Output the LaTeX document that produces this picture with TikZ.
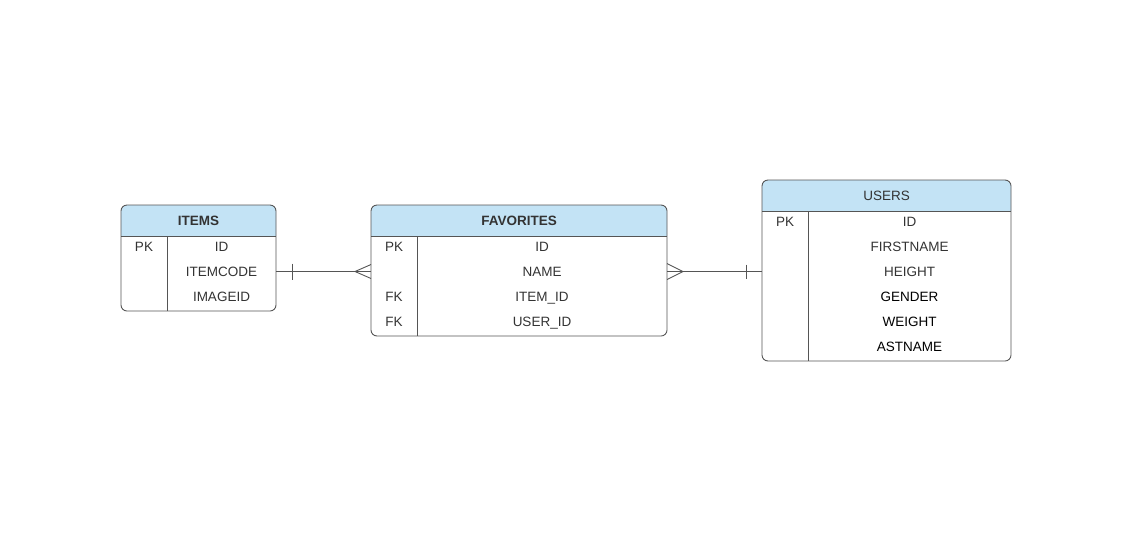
\documentclass[tikz,border=0pt]{standalone}
\usepackage{fontspec}
\setmainfont{Liberation Sans}
\usetikzlibrary{calc}
\definecolor{headfill}{HTML}{C3E3F5}
\definecolor{edge}{HTML}{555555}
\definecolor{ink}{HTML}{333333}
\tikzset{
  tbl/.style={inner sep=0pt, outer sep=0pt},
  border/.style={draw=edge, line width=0.9pt, rounded corners=6pt},
  rule/.style={draw=edge, line width=0.9pt},
  field/.style={inner sep=0pt, text depth=0pt, text=ink, font=\fontsize{13.5}{15}\selectfont},
  darkfield/.style={field, text=black},
  title/.style={inner sep=0pt, text depth=0pt, text=ink, font=\fontsize{13.5}{15}\selectfont},
  conn/.style={draw=edge, line width=0.9pt},
}
\begin{document}
\begin{tikzpicture}[x=1pt,y=-1pt]
\useasboundingbox (0,0) rectangle (1147,550);

% ---------- table frames ----------
\node[tbl, minimum width=155pt, minimum height=106pt] (items) at (198.5,258) {};
\node[tbl, minimum width=296pt, minimum height=131pt] (fav) at (519,270.5) {};
\node[tbl, minimum width=249pt, minimum height=181pt] (users) at (886.5,270.5) {};

% header bands (rounded on top only)
\foreach \t in {items,fav,users}{
  \fill[headfill] ([yshift=-31pt]\t.north west) [rounded corners=6pt] -- (\t.north west) -- (\t.north east) [sharp corners] -- ([yshift=-31pt]\t.north east) -- cycle;
  \draw[rule] ([yshift=-31pt]\t.north west) -- ([yshift=-31pt]\t.north east);
  \draw[border] (\t.north west) rectangle (\t.south east);
}

% key column dividers
\draw[rule] ([yshift=-31pt]items.north west) ++(46pt,0) coordinate (items-div) -- (items-div |- items.south);
\draw[rule] ([yshift=-31pt]fav.north west) ++(46pt,0) coordinate (fav-div) -- (fav-div |- fav.south);
\draw[rule] ([yshift=-31pt]users.north west) ++(46pt,0) coordinate (users-div) -- (users-div |- users.south);

% ---------- ITEMS ----------
\node[title, font=\fontsize{13.5}{15}\selectfont\bfseries] (items-title) at (198.5,220.5) {ITEMS};
\node[field] (items-pk) at (144,246.5) {PK};
\node[field] (items-id) at (221.5,246.5) {ID};
\node[field] (items-code) at (221.5,271.5) {ITEMCODE};
\node[field] (items-img) at (221.5,296.5) {IMAGEID};

% ---------- FAVORITES ----------
\node[title, font=\fontsize{13.5}{15}\selectfont\bfseries] (fav-title) at (519,220.5) {FAVORITES};
\node[field] (fav-pk) at (394,246.5) {PK};
\node[field] (fav-fk1) at (394,296.5) {FK};
\node[field] (fav-fk2) at (394,321.5) {FK};
\node[field] (fav-id) at (542,246.5) {ID};
\node[field] (fav-name) at (542,271.5) {NAME};
\node[field] (fav-item) at (542,296.5) {ITEM\_ID};
\node[field] (fav-user) at (542,321.5) {USER\_ID};

% ---------- USERS ----------
\node[title] (users-title) at (886.5,195.5) {USERS};
\node[field] (users-pk) at (785,221.5) {PK};
\node[field] (users-id) at (909.5,221.5) {ID};
\node[field] (users-first) at (909.5,246.5) {FIRSTNAME};
\node[field] (users-height) at (909.5,271.5) {HEIGHT};
\node[darkfield] (users-gender) at (909.5,296.5) {GENDER};
\node[darkfield] (users-weight) at (909.5,321.5) {WEIGHT};
\node[darkfield] (users-last) at (909.5,346.5) {ASTNAME};

% ---------- relationships ----------
% ITEMS (one) -- FAVORITES (many)
\coordinate (r1a) at (items.east |- items-code);
\coordinate (r1b) at (fav.west |- fav-name);
\draw[conn] (r1a) -- (r1b);
\draw[conn] ([xshift=16pt,yshift=8pt]r1a) -- ([xshift=16pt,yshift=-8pt]r1a);
\draw[conn] ([yshift=7pt]r1b) -- ([xshift=-16pt]r1b) -- ([yshift=-7pt]r1b);

% FAVORITES (many) -- USERS (one)
\coordinate (r2a) at (fav.east |- fav-name);
\coordinate (r2b) at (users.west |- users-height);
\draw[conn] (r2a) -- (r2b);
\draw[conn] ([yshift=8pt]r2a) -- ([xshift=16pt]r2a) -- ([yshift=-8pt]r2a);
\draw[conn] ([xshift=-16pt,yshift=7pt]r2b) -- ([xshift=-16pt,yshift=-7pt]r2b);
\end{tikzpicture}
\end{document}
